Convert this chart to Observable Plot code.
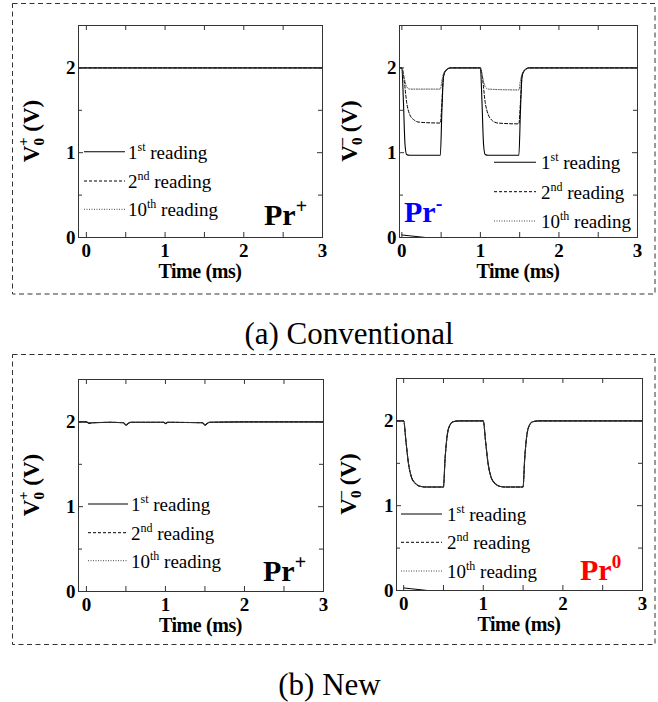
<!DOCTYPE html>
<html><head><meta charset="utf-8">
<script src="https://cdn.jsdelivr.net/npm/d3@7"></script>
<script src="https://cdn.jsdelivr.net/npm/@observablehq/plot@0.6"></script>
<style>
body{margin:0;background:#fff}
#root{position:relative;width:658px;height:702px;overflow:hidden}
#overlay{position:absolute;left:0;top:0}
</style></head><body><div id="root"></div>
<script>
// ---------- data ----------
const xTickLabels = [0, 1, 2, 3];
const yTickLabels = [0, 1, 2];
const xTickMarks = [0, 0.5, 1, 1.5, 2, 2.5, 3];
const yTickMajor = [0, 1, 2];
const yTickMinor = [0.5, 1.5];
const readings = ["1st", "2nd", "10th"];

// (a) Conventional, Pr+  (time ms, voltage V)
const convPlus1st  = [[-0.1,2.0],[0.5,2.0],[1.0,2.0],[1.5,2.0],[3.0,2.0]];
const convPlus2nd  = [[-0.1,2.0],[0.5,2.0],[1.0,2.0],[1.5,2.0],[3.0,2.0]];
const convPlus10th = [[-0.1,2.0],[0.5,2.0],[1.0,2.0],[1.5,2.0],[3.0,2.0]];

// (a) Conventional, Pr-
const convMinus1st = [[-0.03,2.0],[0,2.0],[0.02,1.6],[0.04,1.1],[0.06,0.98],[0.1,0.97],[0.49,0.97],[0.51,1.5],[0.53,1.9],[0.56,1.97],[0.62,2.0],[1.0,2.0],[1.02,1.6],[1.04,1.1],[1.06,0.98],[1.1,0.97],[1.49,0.97],[1.51,1.5],[1.53,1.9],[1.56,1.97],[1.62,2.0],[3.0,2.0]];
const convMinus2nd = [[-0.03,2.0],[0,2.0],[0.03,1.85],[0.06,1.6],[0.1,1.45],[0.15,1.39],[0.22,1.36],[0.49,1.35],[0.51,1.6],[0.53,1.9],[0.56,1.97],[0.62,2.0],[1.0,2.0],[1.03,1.85],[1.06,1.6],[1.1,1.45],[1.15,1.38],[1.22,1.35],[1.49,1.34],[1.51,1.6],[1.53,1.9],[1.56,1.97],[1.62,2.0],[3.0,2.0]];
const convMinus10th = [[-0.03,2.0],[0,2.0],[0.03,1.88],[0.06,1.78],[0.1,1.75],[0.49,1.75],[0.51,1.85],[0.53,1.93],[0.56,1.97],[0.62,2.0],[1.0,2.0],[1.03,1.88],[1.06,1.78],[1.1,1.75],[1.49,1.74],[1.51,1.85],[1.53,1.93],[1.56,1.97],[1.62,2.0],[3.0,2.0]];
const convMinusTail = [[0,0.03],[0.1,0.02],[0.3,0.0]];

// (b) New, Pr+
const newPlus1st  = [[-0.1,2.0],[0,2.0],[0.03,1.985],[0.08,1.99],[0.3,1.995],[0.47,1.99],[0.5,1.96],[0.52,1.975],[0.56,1.995],[0.98,1.995],[1.0,1.98],[1.03,1.995],[1.47,1.99],[1.5,1.96],[1.52,1.975],[1.56,1.995],[2.0,2.0],[3.0,2.0]];
const newPlus2nd  = [[-0.1,2.0],[0,2.0],[0.03,1.985],[0.08,1.99],[0.3,1.995],[0.47,1.99],[0.5,1.965],[0.52,1.975],[0.56,1.995],[0.98,1.995],[1.0,1.985],[1.03,1.995],[1.47,1.99],[1.5,1.965],[1.52,1.975],[1.56,1.995],[2.0,2.0],[3.0,2.0]];
const newPlus10th = [[-0.1,2.0],[0,2.0],[0.03,1.99],[0.08,1.99],[0.3,1.995],[0.47,1.99],[0.5,1.97],[0.52,1.98],[0.56,1.995],[0.98,1.995],[1.0,1.985],[1.03,1.995],[1.47,1.99],[1.5,1.97],[1.52,1.98],[1.56,1.995],[2.0,2.0],[3.0,2.0]];

// (b) New, Pr0
const newZero1st = [[-0.09,2.0],[0,2.0],[0.03,1.75],[0.06,1.5],[0.1,1.33],[0.15,1.26],[0.2,1.23],[0.3,1.22],[0.5,1.22],[0.52,1.55],[0.55,1.85],[0.58,1.95],[0.62,1.99],[0.7,2.0],[1.0,2.0],[1.03,1.75],[1.06,1.5],[1.1,1.33],[1.15,1.26],[1.2,1.23],[1.3,1.22],[1.5,1.22],[1.52,1.55],[1.55,1.85],[1.58,1.95],[1.62,1.99],[1.7,2.0],[3.0,2.0]];
const newZero2nd = [[-0.09,2.0],[0,2.0],[0.03,1.75],[0.06,1.5],[0.1,1.33],[0.15,1.26],[0.2,1.23],[0.3,1.22],[0.5,1.22],[0.52,1.55],[0.55,1.85],[0.58,1.95],[0.62,1.99],[0.7,2.0],[1.0,2.0],[1.03,1.75],[1.06,1.5],[1.1,1.33],[1.15,1.26],[1.2,1.23],[1.3,1.22],[1.5,1.22],[1.52,1.55],[1.55,1.85],[1.58,1.95],[1.62,1.99],[1.7,2.0],[3.0,2.0]];
const newZero10th = [[-0.09,2.0],[0,2.0],[0.03,1.75],[0.06,1.5],[0.1,1.33],[0.15,1.26],[0.2,1.23],[0.3,1.22],[0.5,1.22],[0.52,1.55],[0.55,1.85],[0.58,1.95],[0.62,1.99],[0.7,2.0],[1.0,2.0],[1.03,1.75],[1.06,1.5],[1.1,1.33],[1.15,1.26],[1.2,1.23],[1.3,1.22],[1.5,1.22],[1.52,1.55],[1.55,1.85],[1.58,1.95],[1.62,1.99],[1.7,2.0],[3.0,2.0]];
const newZeroTail = [[0,0.03],[0.1,0.02],[0.3,0.0]];

// ---------- styles ----------
const FONT = "'Liberation Serif', 'Times New Roman', serif";
const lineStyles = [
  {stroke: "#000", strokeWidth: 1.1, strokeDasharray: null},
  {stroke: "#000", strokeWidth: 1, strokeDasharray: "3,2"},
  {stroke: "#444", strokeWidth: 1, strokeDasharray: "1,1.5"}
];

const root = document.getElementById("root");

function panel(cfg) {
  const {left, top, width, height, mL, mR, mT, mB, xDomain, series, tail} = cfg;
  const innerW = width - mL - mR, innerH = height - mT - mB;
  const marks = [];
  series.forEach((s, i) => {
    marks.push(Plot.line(s, {x: d => d[0], y: d => d[1], curve: "monotone-x", ...lineStyles[i]}));
  });
  if (tail) marks.push(Plot.line(tail, {x: d => d[0], y: d => d[1], stroke: "#000", strokeWidth: 1}));
  marks.push(
    Plot.tickY(yTickMajor, {y: d => d, insetRight: innerW - 5, stroke: "#333"}),
    Plot.tickY(yTickMajor, {y: d => d, insetLeft: innerW - 5, stroke: "#333"}),
    Plot.tickY(yTickMinor, {y: d => d, insetRight: innerW - 4, stroke: "#333"}),
    Plot.tickY(yTickMinor, {y: d => d, insetLeft: innerW - 4, stroke: "#333"}),
    Plot.tickX(xTickMarks, {x: d => d, insetTop: innerH - 5, stroke: "#333"}),
    Plot.tickX(xTickMarks, {x: d => d, insetBottom: innerH - 5, stroke: "#333"}),
    Plot.axisX({ticks: xTickLabels, tickSize: 0, tickPadding: 6, label: null, tickFormat: d => String(d)}),
    Plot.axisY({ticks: yTickLabels, tickSize: 0, tickPadding: 3, label: null, tickFormat: d => String(d)}),
    Plot.frame({stroke: "#333", strokeWidth: 1})
  );
  const p = Plot.plot({
    width, height, marginLeft: mL, marginRight: mR, marginTop: mT, marginBottom: mB,
    x: {domain: xDomain}, y: {domain: [0, 2.5]},
    style: "font-family: 'Liberation Serif', serif; font-size: 19px; font-weight: bold; color: #000; background: transparent; overflow: visible;",
    marks
  });
  p.style.position = "absolute";
  p.style.left = left + "px";
  p.style.top = top + "px";
  d3.select(p).selectAll("text").attr("font-family", FONT);
  root.appendChild(p);
}

panel({left: 0, top: 0, width: 329, height: 294, mL: 78, mR: 7, mT: 25, mB: 57, xDomain: [-0.1, 3],
  series: [convPlus1st, convPlus2nd, convPlus10th]});
panel({left: 329, top: 0, width: 329, height: 294, mL: 70, mR: 21, mT: 25, mB: 57, xDomain: [-0.03, 3],
  series: [convMinus1st, convMinus2nd, convMinus10th], tail: convMinusTail});
panel({left: 0, top: 354, width: 329, height: 290, mL: 78, mR: 6, mT: 25, mB: 53, xDomain: [-0.1, 3],
  series: [newPlus1st, newPlus2nd, newPlus10th]});
panel({left: 329, top: 354, width: 329, height: 290, mL: 67, mR: 16, mT: 24, mB: 54, xDomain: [-0.09, 3],
  series: [newZero1st, newZero2nd, newZero10th], tail: newZeroTail});

// ---------- overlay: boxes, labels, legends, captions ----------
const svg = d3.select(root).append("svg").attr("id", "overlay")
  .attr("width", 658).attr("height", 702);
function txt(x, y, size, weight) {
  return svg.append("text").attr("x", x).attr("y", y)
    .attr("font-family", FONT).attr("font-size", size).attr("font-weight", weight || "normal");
}

// dashed boxes
[[12.5, 3.5, 642.5, 290.5], [12.5, 354.5, 642.5, 290]].forEach(([x, y, w, h]) => {
  svg.append("rect").attr("x", x).attr("y", y).attr("width", w).attr("height", h)
    .attr("fill", "none").attr("stroke", "#333").attr("stroke-width", 1).attr("stroke-dasharray", "5,3.5");
});

// x axis titles
[[200, 277.5], [518, 278], [200.5, 631.5], [519, 631]].forEach(([x, y]) => {
  txt(x, y, 20, "bold").attr("text-anchor", "middle").attr("letter-spacing", "-0.4").text("Time (ms)");
});

// y axis titles
function ylabel(x, y, sign) {
  const t = svg.append("text").attr("transform", `translate(${x},${y}) rotate(-90)`)
    .attr("font-family", FONT).attr("text-anchor", "middle").attr("font-size", 23).attr("font-weight", "bold");
  t.append("tspan").text("V");
  t.append("tspan").attr("font-size", 15).attr("dy", 5).text("0");
  t.append("tspan").attr("font-size", 15).attr("dx", -8).attr("dy", -16).text(sign);
  t.append("tspan").attr("dy", 11).text(" (V)");
}
ylabel(39, 131, "+");
ylabel(357, 131, "\u2013");
ylabel(39, 485, "+");
ylabel(356, 484, "\u2013");

// legends
function legend(x0, x1, tx, lineYs) {
  lineYs.forEach((ly, i) => {
    const st = lineStyles[i];
    svg.append("line").attr("x1", x0).attr("x2", x1).attr("y1", ly).attr("y2", ly)
      .attr("stroke", st.stroke).attr("stroke-width", st.strokeWidth)
      .attr("stroke-dasharray", st.strokeDasharray);
    const r = readings[i];
    const num = r.replace(/[a-z]+$/, ""), suf = r.slice(num.length);
    const t = txt(tx, ly + 7, 19);
    t.append("tspan").text(num);
    t.append("tspan").attr("font-size", 12).attr("dy", -8).text(suf);
    t.append("tspan").attr("dy", 8).text(" reading");
  });
}
legend(84, 125, 128, [151.7, 181, 209.3]);
legend(494, 536, 541, [162.3, 191.7, 221]);
legend(88, 128, 131, [504, 532.7, 560.7]);
legend(401, 442, 447, [514, 542.3, 571]);

// particle labels
function prLabel(x, y, sup, color, supSize) {
  const t = txt(x, y, 30, "bold").attr("fill", color);
  t.append("tspan").text("Pr");
  t.append("tspan").attr("font-size", supSize).attr("dy", -12).text(sup);
}
prLabel(264, 225, "+", "#000", 20);
prLabel(404, 222, "-", "#0000ff", 20);
prLabel(263, 581, "+", "#000", 20);
prLabel(580, 580, "0", "#ff0000", 19);

// captions
txt(349, 344, 31).attr("text-anchor", "middle").text("(a) Conventional");
txt(329.5, 695, 31).attr("text-anchor", "middle").text("(b) New");
</script></body></html>
